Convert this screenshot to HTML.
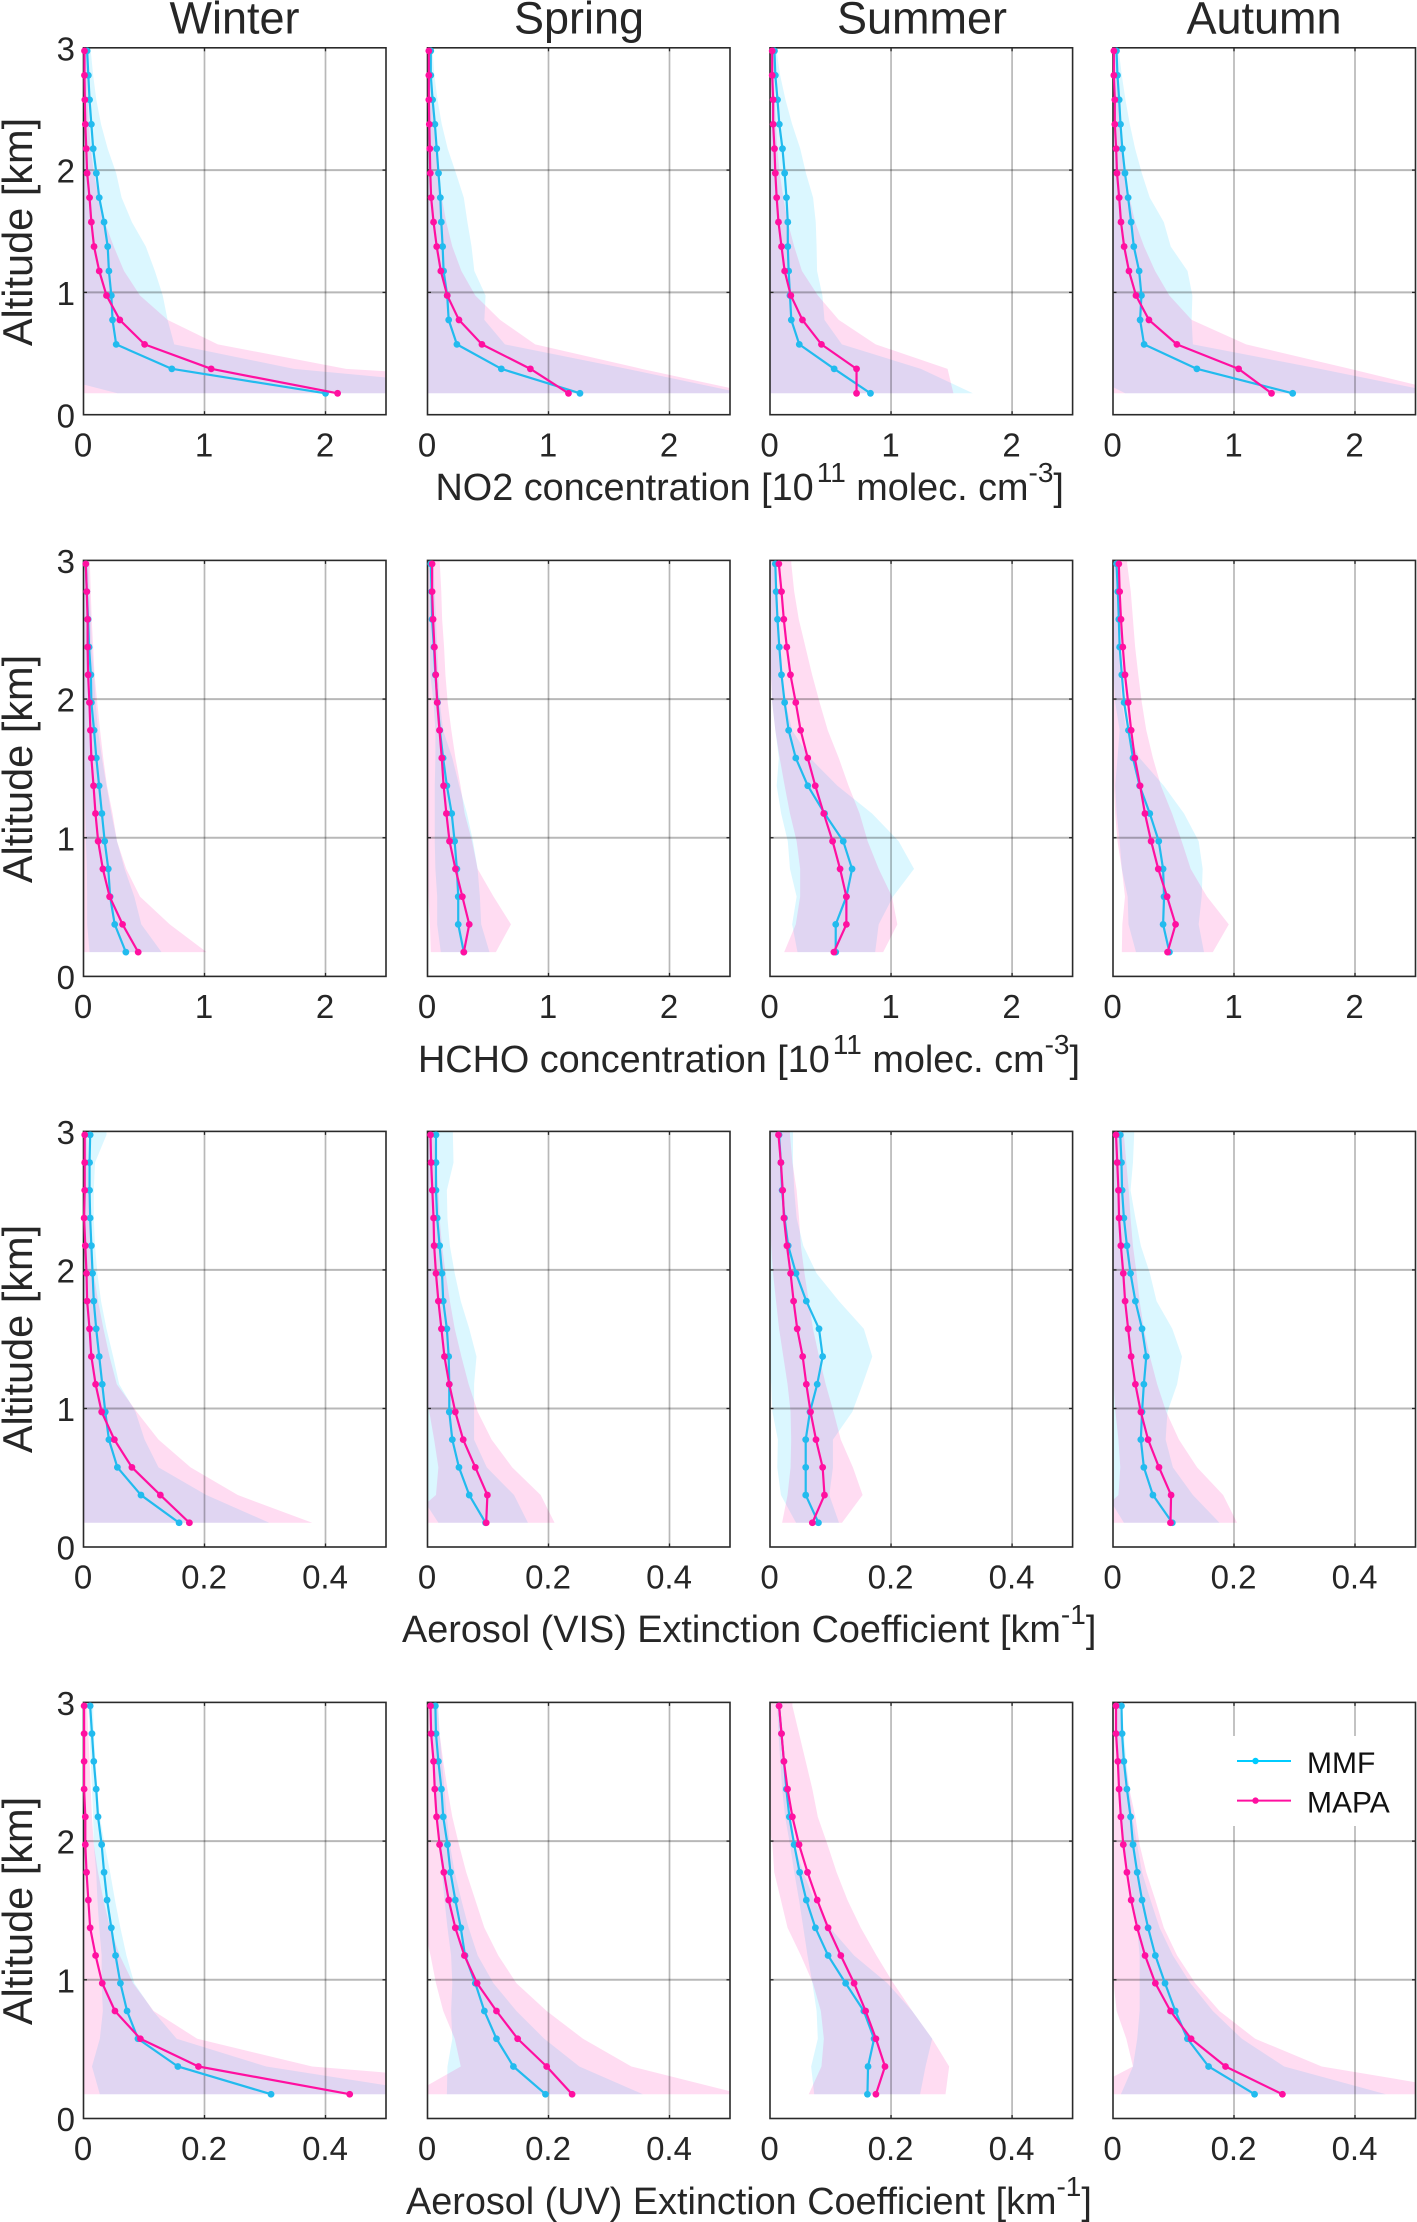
<!DOCTYPE html>
<html lang="en">
<head>
<meta charset="utf-8">
<title>Seasonal vertical profiles MMF vs MAPA</title>
<style>
html,body{margin:0;padding:0;background:#fff;}
svg{display:block;}
text{font-family:"Liberation Sans",Arial,sans-serif;fill:#262626;}
.title{font-size:45px;text-anchor:middle;}
.ylab{font-size:41.5px;text-anchor:middle;}
.xlab{font-size:37.8px;}
.sup{font-size:28px;}
.tick{font-size:33px;}
.leg{font-size:30px;fill:#111;}
</style>
</head>
<body>
<svg id="chart" xmlns="http://www.w3.org/2000/svg" width="1417" height="2222" viewBox="0 0 1417 2222">
<rect x="0" y="0" width="1417" height="2222" fill="#fff"/>
<g id="panels"></g>
<text class="title" x="234.5" y="33.5">Winter</text>
<text class="title" x="579" y="33.5">Spring</text>
<text class="title" x="922" y="33.5">Summer</text>
<text class="title" x="1264" y="33.5">Autumn</text>
<text class="ylab" transform="translate(32,232) rotate(-90)">Altitude [km]</text>
<text class="ylab" transform="translate(32,769) rotate(-90)">Altitude [km]</text>
<text class="ylab" transform="translate(32,1339) rotate(-90)">Altitude [km]</text>
<text class="ylab" transform="translate(32,1911) rotate(-90)">Altitude [km]</text>
<text class="xlab" x="435.5" y="500">NO2 concentration [10<tspan class="sup" dx="3" dy="-18">11</tspan><tspan dy="18"> molec. cm</tspan><tspan class="sup" dy="-18">-3</tspan><tspan dy="18">]</tspan></text>
<text class="xlab" x="418" y="1072">HCHO concentration [10<tspan class="sup" dx="3" dy="-18">11</tspan><tspan dy="18"> molec. cm</tspan><tspan class="sup" dy="-18">-3</tspan><tspan dy="18">]</tspan></text>
<text class="xlab" x="402" y="1642">Aerosol (VIS) Extinction Coefficient [km<tspan class="sup" dy="-18">-1</tspan><tspan dy="18">]</tspan></text>
<text class="xlab" x="406" y="2214">Aerosol (UV) Extinction Coefficient [km<tspan class="sup" dy="-18">-1</tspan><tspan dy="18">]</tspan></text>
</svg>
<script>
// Altitude levels, lowest to highest (km)
const altitudes = [0.175,0.375,0.575,0.775,0.975,1.175,1.375,1.575,1.775,1.975,2.175,2.375,2.575,2.775,2.975];
const yTicks = [0,1,2,3];
const concTicks = [0,1,2];
const extTicks = [0,0.2,0.4];
const concMax = 2.5;
const extMax = 0.5;
const altMax = 3;
const seriesNames = ["MMF","MAPA"];

// NO2 [1e11 molec cm-3]
const no2WinterMmf = [2.00,.73,.27,.24,.23,.21,.20,.17,.13,.106,.08,.065,.05,.04,.03];
const no2WinterMapa = [2.10,1.055,.505,.30,.19,.13,.087,.065,.05,.03,.023,.015,.011,.008,.008];
const no2WinterMmfHi = [3.9,1.74,.75,.695,.655,.59,.515,.40,.315,.27,.20,.145,.106,.08,.06];
const no2WinterMmfLo = [.28,-.5,-.3,-.2,-.2,-.15,-.1,-.07,-.05,-.03,-.02,-.02,-.01,-.01,-.01];
const no2WinterMapaHi = [5.5,2.17,1.11,.695,.467,.335,.25,.175,.125,.087,.06,.045,.035,.03,.025];
const no2WinterMapaLo = [-1,-.5,-.3,-.1,-.08,-.06,-.04,-.03,-.02,-.01,-.01,-.01,-.01,-.01,-.01];

const no2SpringMmf = [1.26,.61,.243,.175,.163,.133,.125,.114,.106,.091,.076,.061,.042,.027,.027];
const no2SpringMapa = [1.165,.85,.45,.26,.163,.11,.076,.05,.03,.023,.019,.015,.011,.011,.011];
const no2SpringMmfHi = [2.61,1.65,.64,.47,.48,.387,.364,.33,.30,.235,.167,.118,.083,.057,.042];
const no2SpringMmfLo = [-.1,-.4,-.2,-.15,-.15,-.12,-.1,-.1,-.08,-.05,-.02,-.02,-.01,-.01,-.01];
const no2SpringMapaHi = [2.7,1.77,.89,.60,.395,.28,.205,.155,.118,.09,.07,.05,.043,.036,.03];
const no2SpringMapaLo = [-.4,-.2,-.1,-.1,-.08,-.06,-.05,-.03,-.02,-.02,-.01,-.01,-.01,-.01,-.01];

const no2SummerMmf = [.83,.53,.242,.176,.165,.154,.147,.147,.136,.121,.103,.077,.062,.044,.037];
const no2SummerMapa = [.715,.715,.425,.268,.172,.121,.095,.07,.055,.044,.037,.026,.026,.018,.018];
const no2SummerMmfHi = [1.676,1.247,.594,.45,.433,.389,.385,.378,.356,.297,.25,.183,.128,.084,.055];
const no2SummerMmfLo = [-.02,-.2,-.1,-.1,-.1,-.08,-.08,-.08,-.08,-.05,-.04,-.03,-.01,-.01,-.01];
const no2SummerMapaHi = [1.515,1.467,.873,.568,.396,.264,.20,.147,.11,.08,.06,.05,.04,.035,.03];
const no2SummerMapaLo = [-.1,-.04,-.02,-.03,-.05,-.02,-.01,-.01,-.01,-.01,-.01,-.01,-.01,-.01,-.01];

const no2AutumnMmf = [1.485,.693,.257,.224,.235,.216,.172,.15,.125,.099,.077,.062,.051,.037,.029];
const no2AutumnMapa = [1.31,1.038,.528,.297,.19,.132,.092,.066,.051,.033,.026,.015,.015,.007,.007];
const no2AutumnMmfHi = [2.71,1.71,.66,.65,.656,.616,.477,.42,.304,.238,.183,.139,.103,.073,.048];
const no2AutumnMmfLo = [.1,-.3,-.2,-.2,-.2,-.18,-.14,-.12,-.06,-.04,-.03,-.02,-.01,-.01,-.01];
const no2AutumnMapaHi = [2.79,1.96,1.1,.65,.466,.348,.257,.183,.136,.10,.075,.06,.045,.035,.03];
const no2AutumnMapaLo = [-.3,-.2,-.1,-.1,-.08,-.06,-.04,-.02,-.02,-.01,-.01,-.01,-.01,-.01,-.01];

// HCHO [1e11 molec cm-3]
const hchoWinterMmf = [.35,.258,.22,.205,.175,.152,.129,.106,.087,.065,.061,.046,.038,.027,.019];
const hchoWinterMapa = [.452,.323,.216,.16,.121,.099,.083,.065,.057,.049,.038,.034,.034,.027,.019];
const hchoWinterMmfHi = [.645,.478,.42,.34,.277,.23,.19,.152,.12,.10,.087,.068,.06,.05,.04];
const hchoWinterMmfLo = [.05,.03,.03,.028,.02,.015,.01,.01,.005,.004,.003,.002,.002,.002,.002];
const hchoWinterMapaHi = [1.017,.713,.467,.353,.277,.24,.194,.163,.137,.114,.091,.08,.068,.06,.053];
const hchoWinterMapaLo = [0,-.01,-.02,-.02,-.02,-.02,-.02,-.02,-.02,-.02,-.02,-.02,-.01,-.01,-.01];

const hchoSpringMmf = [.30,.254,.254,.243,.224,.20,.16,.129,.102,.083,.065,.053,.038,.034,.027];
const hchoSpringMapa = [.30,.345,.288,.231,.182,.156,.133,.118,.099,.08,.068,.057,.046,.038,.038];
const hchoSpringMmfHi = [.512,.444,.433,.414,.376,.326,.262,.205,.129,.102,.09,.08,.07,.06,.05];
const hchoSpringMmfLo = [.11,.08,.08,.065,.06,.06,.06,.065,.065,.05,.023,.02,.015,.012,.012];
const hchoSpringMapaHi = [.565,.69,.546,.414,.368,.307,.273,.231,.197,.167,.148,.137,.121,.114,.102];
const hchoSpringMapaLo = [.027,.02,.008,-.01,-.01,-.02,-.02,-.02,-.02,-.02,-.02,-.02,-.02,-.02,-.02];

const hchoSummerMmf = [.543,.543,.631,.678,.605,.451,.312,.213,.154,.121,.095,.077,.062,.051,.044];
const hchoSummerMapa = [.528,.631,.631,.579,.517,.444,.374,.312,.253,.213,.169,.139,.114,.095,.073];
const hchoSummerMmfHi = [.869,.898,1.016,1.19,1.063,.843,.557,.33,.183,.128,.09,.08,.07,.06,.05];
const hchoSummerMmfLo = [.227,.183,.22,.165,.147,.092,.055,.073,.044,.018,.01,.01,.01,.01,.01];
const hchoSummerMapaHi = [.935,1.052,1.008,.898,.807,.74,.649,.568,.477,.41,.348,.293,.238,.20,.176];
const hchoSummerMapaLo = [.117,.213,.249,.249,.22,.165,.121,.08,.044,.018,.007,-.01,-.02,-.02,-.02];

const hchoAutumnMmf = [.466,.414,.422,.414,.378,.304,.22,.165,.128,.092,.073,.055,.048,.04,.029];
const hchoAutumnMapa = [.451,.517,.447,.374,.315,.264,.224,.18,.15,.125,.099,.081,.066,.055,.048];
const hchoAutumnMmfHi = [.752,.708,.733,.741,.708,.587,.42,.22,.11,.073,.06,.05,.04,.035,.03];
const hchoAutumnMmfLo = [.19,.128,.121,.073,.055,.03,.018,.037,.055,.018,.004,.004,.004,.004,.004];
const hchoAutumnMapaHi = [.825,.957,.777,.642,.568,.488,.396,.33,.275,.238,.209,.183,.165,.147,.117];
const hchoAutumnMapaLo = [.073,.077,.099,.073,.037,.018,.007,-.01,-.01,-.02,-.02,-.02,-.02,-.02,-.02];

// Aerosol VIS extinction [km-1]
const visWinterMmf = [.158,.095,.056,.042,.036,.031,.026,.021,.017,.015,.013,.011,.01,.01,.011];
const visWinterMapa = [.175,.127,.08,.051,.03,.02,.013,.01,.006,.005,.003,.001,.002,.002,.002];
const visWinterMmfHi = [.307,.203,.124,.101,.086,.059,.049,.038,.029,.023,.019,.017,.017,.019,.038];
const visWinterMmfLo = [.002,-.005,-.005,-.005,-.005,-.005,-.005,-.005,-.005,-.005,-.005,-.005,-.005,-.005,-.005];
const visWinterMapaHi = [.378,.255,.177,.124,.088,.055,.043,.033,.024,.017,.012,.01,.008,.007,.006];
const visWinterMapaLo = [-.01,-.01,-.01,-.01,-.01,-.005,-.005,-.005,-.005,-.005,-.005,-.005,-.005,-.005,-.005];

const visSpringMmf = [.096,.069,.052,.041,.036,.036,.035,.032,.026,.024,.02,.016,.014,.014,.014];
const visSpringMapa = [.097,.099,.079,.059,.046,.036,.028,.023,.018,.014,.011,.01,.008,.006,.005];
const visSpringMmfHi = [.166,.143,.098,.077,.077,.077,.081,.069,.055,.045,.037,.033,.032,.043,.042];
const visSpringMmfLo = [.018,-.012,-.01,-.01,-.01,-.01,-.01,-.01,-.01,-.01,-.01,-.01,-.01,-.01,-.01];
const visSpringMapaHi = [.21,.187,.14,.106,.083,.068,.056,.045,.037,.03,.024,.02,.018,.014,.011];
const visSpringMapaLo = [-.04,.014,.018,.011,.003,-.005,-.005,-.005,-.005,-.005,-.005,-.005,-.005,-.005,-.005];

const visSummerMmf = [.08,.059,.059,.059,.066,.078,.087,.081,.06,.043,.03,.024,.02,.018,.015];
const visSummerMapa = [.07,.09,.087,.076,.067,.06,.054,.045,.039,.034,.028,.023,.021,.018,.014];
const visSummerMmfHi = [.114,.098,.104,.104,.136,.153,.169,.155,.114,.077,.055,.044,.04,.038,.038];
const visSummerMmfLo = [.043,.018,.012,.013,.004,.002,-.003,-.003,-.003,-.003,-.003,-.003,-.003,-.003,-.003];
const visSummerMapaHi = [.119,.153,.137,.117,.105,.092,.081,.071,.064,.057,.051,.048,.044,.037,.033];
const visSummerMapaLo = [.02,.029,.034,.035,.034,.029,.022,.015,.01,.005,.002,0,-.005,-.005,-.005];

const visAutumnMmf = [.098,.066,.051,.046,.048,.051,.055,.048,.037,.029,.023,.018,.015,.014,.012];
const visAutumnMapa = [.095,.096,.076,.058,.046,.037,.03,.025,.02,.017,.013,.01,.009,.007,.005];
const visAutumnMmfHi = [.176,.132,.099,.087,.09,.106,.114,.098,.072,.061,.046,.037,.029,.033,.035];
const visAutumnMmfLo = [.018,-.01,-.01,-.01,-.01,-.01,-.01,-.01,-.01,-.01,-.01,-.01,-.01,-.01,-.01];
const visAutumnMapaHi = [.205,.182,.139,.109,.088,.073,.061,.051,.044,.039,.033,.029,.026,.022,.018];
const visAutumnMapaLo = [-.04,.009,.012,.009,.004,.001,-.005,-.005,-.005,-.005,-.005,-.005,-.005,-.005,-.005];

// Aerosol UV extinction [km-1]
const uvWinterMmf = [.31,.156,.09,.072,.061,.053,.046,.039,.034,.03,.024,.021,.017,.014,.011];
const uvWinterMapa = [.44,.19,.094,.052,.031,.02,.011,.008,.005,.003,.003,.001,.001,.001,.001];
const uvWinterMmfHi = [.594,.302,.154,.115,.084,.071,.061,.052,.044,.035,.027,.023,.02,.017,.016];
const uvWinterMmfLo = [.027,.014,.027,.032,.03,.03,.026,.023,.021,.017,.016,.014,.012,.01,.008];
const uvWinterMapaHi = [.928,.378,.188,.116,.082,.06,.044,.033,.024,.017,.014,.012,.01,.008,.006];
const uvWinterMapaLo = [-.01,-.01,-.01,-.01,-.01,-.01,-.01,-.01,-.005,-.005,-.005,-.005,-.005,-.005,-.005];

const uvSpringMmf = [.195,.142,.114,.094,.079,.062,.055,.046,.038,.033,.026,.023,.018,.014,.013];
const uvSpringMapa = [.239,.197,.149,.114,.082,.061,.046,.035,.027,.02,.015,.012,.01,.006,.005];
const uvSpringMmfHi = [.356,.251,.193,.147,.109,.083,.068,.056,.045,.037,.032,.028,.024,.02,.018];
const uvSpringMmfLo = [.032,.033,.041,.039,.041,.039,.033,.028,.024,.018,.015,.012,.01,.008,.006];
const uvSpringMapaHi = [.52,.337,.257,.197,.147,.117,.094,.079,.064,.052,.041,.033,.026,.02,.017];
const uvSpringMapaLo = [-.026,.055,.045,.026,.014,.005,-.005,-.005,-.005,-.005,-.005,-.005,-.005,-.005,-.005];

const uvSummerMmf = [.161,.162,.172,.155,.125,.096,.075,.06,.049,.04,.032,.027,.023,.019,.015];
const uvSummerMapa = [.175,.19,.175,.158,.139,.117,.096,.078,.062,.048,.037,.029,.023,.019,.015];
const uvSummerMmfHi = [.248,.257,.268,.235,.194,.139,.099,.073,.055,.04,.03,.025,.02,.017,.015];
const uvSummerMmfLo = [.073,.068,.079,.077,.07,.062,.055,.048,.04,.033,.025,.02,.017,.014,.012];
const uvSummerMapaHi = [.29,.296,.268,.235,.204,.176,.15,.128,.11,.095,.079,.07,.059,.048,.037];
const uvSummerMapaLo = [.064,.085,.089,.084,.071,.051,.029,.018,.007,.004,-.005,-.005,-.005,-.005,-.005];

const uvAutumnMmf = [.234,.158,.123,.103,.086,.07,.058,.048,.04,.033,.029,.023,.018,.015,.014];
const uvAutumnMapa = [.28,.186,.129,.095,.07,.053,.04,.03,.023,.017,.013,.01,.008,.005,.005];
const uvAutumnMmfHi = [.451,.283,.213,.165,.128,.099,.077,.062,.048,.04,.032,.027,.022,.018,.015];
const uvAutumnMmfLo = [.013,.033,.04,.044,.044,.044,.04,.033,.026,.018,.012,.009,.007,.005,.004];
const uvAutumnMapaHi = [.618,.345,.235,.176,.136,.106,.084,.07,.055,.044,.037,.027,.02,.015,.011];
const uvAutumnMapaLo = [-.055,.033,.022,.006,.001,-.005,-.005,-.005,-.005,-.005,-.005,-.005,-.005,-.005,-.005];

const panelData = [
  [[no2WinterMmf,no2WinterMapa,no2WinterMmfHi,no2WinterMmfLo,no2WinterMapaHi,no2WinterMapaLo],
   [no2SpringMmf,no2SpringMapa,no2SpringMmfHi,no2SpringMmfLo,no2SpringMapaHi,no2SpringMapaLo],
   [no2SummerMmf,no2SummerMapa,no2SummerMmfHi,no2SummerMmfLo,no2SummerMapaHi,no2SummerMapaLo],
   [no2AutumnMmf,no2AutumnMapa,no2AutumnMmfHi,no2AutumnMmfLo,no2AutumnMapaHi,no2AutumnMapaLo]],
  [[hchoWinterMmf,hchoWinterMapa,hchoWinterMmfHi,hchoWinterMmfLo,hchoWinterMapaHi,hchoWinterMapaLo],
   [hchoSpringMmf,hchoSpringMapa,hchoSpringMmfHi,hchoSpringMmfLo,hchoSpringMapaHi,hchoSpringMapaLo],
   [hchoSummerMmf,hchoSummerMapa,hchoSummerMmfHi,hchoSummerMmfLo,hchoSummerMapaHi,hchoSummerMapaLo],
   [hchoAutumnMmf,hchoAutumnMapa,hchoAutumnMmfHi,hchoAutumnMmfLo,hchoAutumnMapaHi,hchoAutumnMapaLo]],
  [[visWinterMmf,visWinterMapa,visWinterMmfHi,visWinterMmfLo,visWinterMapaHi,visWinterMapaLo],
   [visSpringMmf,visSpringMapa,visSpringMmfHi,visSpringMmfLo,visSpringMapaHi,visSpringMapaLo],
   [visSummerMmf,visSummerMapa,visSummerMmfHi,visSummerMmfLo,visSummerMapaHi,visSummerMapaLo],
   [visAutumnMmf,visAutumnMapa,visAutumnMmfHi,visAutumnMmfLo,visAutumnMapaHi,visAutumnMapaLo]],
  [[uvWinterMmf,uvWinterMapa,uvWinterMmfHi,uvWinterMmfLo,uvWinterMapaHi,uvWinterMapaLo],
   [uvSpringMmf,uvSpringMapa,uvSpringMmfHi,uvSpringMmfLo,uvSpringMapaHi,uvSpringMapaLo],
   [uvSummerMmf,uvSummerMapa,uvSummerMmfHi,uvSummerMmfLo,uvSummerMapaHi,uvSummerMapaLo],
   [uvAutumnMmf,uvAutumnMapa,uvAutumnMmfHi,uvAutumnMmfLo,uvAutumnMapaHi,uvAutumnMapaLo]]
];

const rowNames = ["no2","hcho","vis","uv"];
const colNames = ["winter","spring","summer","autumn"];

// Layout (not data)
const layoutRows = [
  {top:47.8,bottom:414.7,tickBase:456.5,xTicks:concTicks,xMax:concMax},
  {top:560.4,bottom:976.4,tickBase:1018,xTicks:concTicks,xMax:concMax},
  {top:1131.4,bottom:1547,tickBase:1588.5,xTicks:extTicks,xMax:extMax},
  {top:1702.4,bottom:2118.5,tickBase:2160,xTicks:extTicks,xMax:extMax}
];
const layoutCols = [
  {left:83.5,right:386},
  {left:427.5,right:730},
  {left:770,right:1072.6},
  {left:1113,right:1415.5}
];
const MMF_COLOR = "#22bbee";
const MAPA_COLOR = "#ff10a0";
const NS = "http://www.w3.org/2000/svg";
const root = document.getElementById("panels");

function make(tag, parent, attrs){
  const el = document.createElementNS(NS, tag);
  for (const k in attrs) el.setAttribute(k, attrs[k]);
  parent.appendChild(el);
  return el;
}

function drawBand(g, hi, lo, xs, ys, fill, name, clipId){
  const pts = [];
  pts.push(xs(hi[hi.length-1]) + "," + ys(altMax));
  for (let i = altitudes.length-1; i >= 0; i--) pts.push(xs(hi[i]) + "," + ys(altitudes[i]));
  for (let i = 0; i < altitudes.length; i++) pts.push(xs(lo[i]) + "," + ys(altitudes[i]));
  pts.push(xs(lo[lo.length-1]) + "," + ys(altMax));
  const el = make("polygon", g, {points:pts.join(" "), fill:fill, "clip-path":"url(#" + clipId + ")"});
  
  
}

function drawSeries(g, vals, xs, ys, color, name){
  const pts = vals.map(function(v,i){ return xs(v) + "," + ys(altitudes[i]); }).join(" ");
  const line = make("polyline", g, {points:pts, fill:"none", stroke:color, "stroke-width":2.2, "stroke-linejoin":"round"});
  
  
  vals.forEach(function(v,i){
    const c = make("circle", g, {cx:xs(v), cy:ys(altitudes[i]), r:3.4, fill:color});
    
    
  });
}

layoutRows.forEach(function(R, ri){
  layoutCols.forEach(function(C, ci){
    const d = panelData[ri][ci];
    const pname = rowNames[ri] + "-" + colNames[ci];
    const xs = function(v){ return +(C.left + v / R.xMax * (C.right - C.left)).toFixed(2); };
    const ys = function(a){ return +(R.bottom - a / altMax * (R.bottom - R.top)).toFixed(2); };
    const g = make("g", root, {});
    
    
    const clipId = "clip-" + pname;
    const cp = make("clipPath", g, {id:clipId});
    make("rect", cp, {x:C.left, y:R.top, width:C.right-C.left, height:R.bottom-R.top});

    drawBand(g, d[2], d[3], xs, ys, "rgba(0,200,255,0.14)", "mmf-spread-band", clipId);
    drawBand(g, d[4], d[5], xs, ys, "rgba(255,20,170,0.15)", "mapa-spread-band", clipId);

    R.xTicks.forEach(function(t){
      const x = xs(t);
      if (t !== 0) {
        const gl = make("line", g, {x1:x, x2:x, y1:R.top, y2:R.bottom, stroke:"rgba(0,0,0,0.28)", "stroke-width":1.7});
        
        
        const t1 = make("line", g, {x1:x, x2:x, y1:R.bottom, y2:R.bottom-3.5, stroke:"#262626", "stroke-width":1.3});
        
        
        const t2 = make("line", g, {x1:x, x2:x, y1:R.top, y2:R.top+3.5, stroke:"#262626", "stroke-width":1.3});
        
        
      }
      const lab = make("text", g, {x:x-0.5, y:R.tickBase, "text-anchor":"middle", "class":"tick"});
      
      
      lab.textContent = String(t);
    });

    yTicks.forEach(function(t){
      const y = ys(t);
      if (t !== 0 && t !== altMax) {
        const gl = make("line", g, {x1:C.left, x2:C.right, y1:y, y2:y, stroke:"rgba(0,0,0,0.28)", "stroke-width":2});
        
        
        const t1 = make("line", g, {x1:C.left, x2:C.left+3.5, y1:y, y2:y, stroke:"#262626", "stroke-width":1.3});
        
        
        const t2 = make("line", g, {x1:C.right, x2:C.right-3.5, y1:y, y2:y, stroke:"#262626", "stroke-width":1.3});
        
        
      }
      if (ci === 0) {
        const lab = make("text", g, {x:75, y:y+12.6, "text-anchor":"end", "class":"tick"});
        
        
        lab.textContent = String(t);
      }
    });

    const box = make("rect", g, {x:C.left, y:R.top, width:C.right-C.left, height:R.bottom-R.top, fill:"none", stroke:"#2a2a2a", "stroke-width":1.6});
    
    

    drawSeries(g, d[0], xs, ys, MMF_COLOR, "mmf");
    drawSeries(g, d[1], xs, ys, MAPA_COLOR, "mapa");
  });
});

// Legend, last panel
const legend = make("g", root, {});


const legendBg = make("rect", legend, {x:1233, y:1736, width:172, height:90, fill:"#fff"});


const legendColors = ["#00ccff", MAPA_COLOR];
const legendY = [1761, 1800.6];
const legendBase = [1773, 1812.6];
seriesNames.forEach(function(n, i){
  const l = make("line", legend, {x1:1237, x2:1291, y1:legendY[i], y2:legendY[i], stroke:legendColors[i], "stroke-width":2});
  
  
  const m = make("circle", legend, {cx:1255.5, cy:legendY[i], r:3.2, fill:legendColors[i]});
  
  
  const t = make("text", legend, {x:1307, y:legendBase[i], "class":"leg"});
  
  
  t.textContent = n;
});
</script>
</body>
</html>
